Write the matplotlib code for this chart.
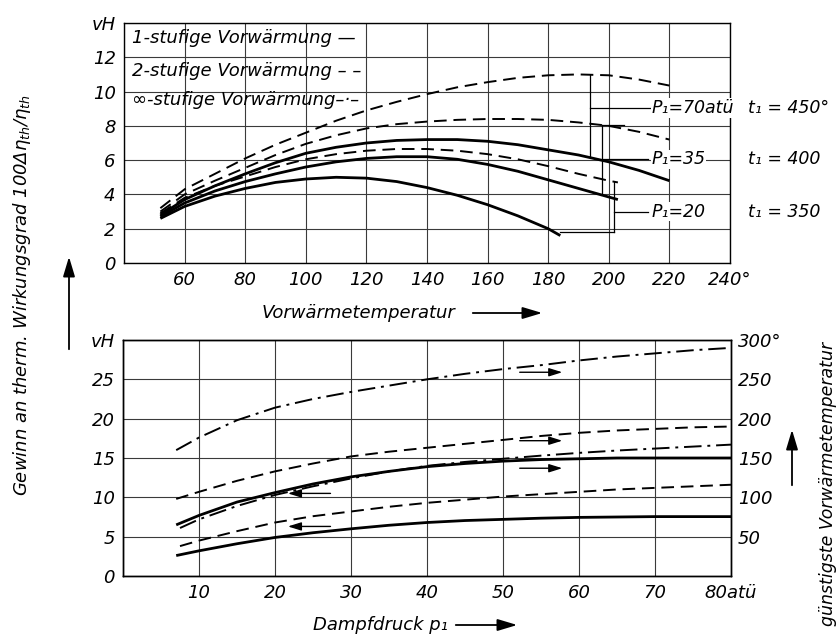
import matplotlib
matplotlib.use("Agg")
import matplotlib.pyplot as plt

plt.rcParams['font.family'] = ['DejaVu Sans']
plt.rcParams['font.style'] = 'italic'

# ---------------- top chart data (Vorwärmetemperatur vs. Gewinn) ----------------
top_xticks = [40, 60, 80, 100, 120, 140, 160, 180, 200, 220, 240]
top_xticklabels = ['', '60', '80', '100', '120', '140', '160', '180', '200', '220', '240°']
top_yticks = [0, 2, 4, 6, 8, 10, 12, 14]
top_yticklabels = ['0', '2', '4', '6', '8', '10', '12', 'vH']

s20_x = [52, 60, 70, 80, 90, 100, 110, 120, 130, 140, 150, 160, 170, 180, 184]
s20_y = [2.6, 3.3, 3.9, 4.35, 4.7, 4.9, 5.0, 4.95, 4.75, 4.4, 3.95, 3.4, 2.75, 2.0, 1.6]

s35_x = [52, 60, 70, 80, 90, 100, 110, 120, 130, 140, 150, 160, 170, 180, 190, 200, 203]
s35_y = [2.7, 3.5, 4.2, 4.75, 5.2, 5.6, 5.9, 6.1, 6.2, 6.2, 6.05, 5.75, 5.35, 4.85, 4.35, 3.85, 3.7]

s70_x = [52, 60, 70, 80, 90, 100, 110, 120, 130, 140, 150, 160, 170, 180, 190, 200, 210, 220]
s70_y = [2.8, 3.7, 4.5, 5.2, 5.85, 6.4, 6.75, 7.0, 7.15, 7.2, 7.2, 7.1, 6.9, 6.6, 6.3, 5.9, 5.4, 4.8]

d20_x = [52, 60, 70, 80, 90, 100, 110, 120, 130, 140, 150, 160, 170, 180, 190, 200, 203]
d20_y = [2.9, 3.8, 4.5, 5.05, 5.6, 6.05, 6.35, 6.55, 6.65, 6.65, 6.55, 6.35, 6.05, 5.65, 5.2, 4.8, 4.7]

d35_x = [52, 60, 70, 80, 90, 100, 110, 120, 130, 140, 150, 160, 170, 180, 190, 200, 210, 220]
d35_y = [3.0, 4.0, 4.8, 5.55, 6.3, 6.95, 7.45, 7.85, 8.1, 8.25, 8.35, 8.4, 8.4, 8.35, 8.2, 8.0, 7.65, 7.2]

d70_x = [52, 60, 70, 80, 90, 100, 110, 120, 130, 140, 150, 160, 170, 180, 190, 200, 210, 220]
d70_y = [3.2, 4.3, 5.2, 6.1, 6.9, 7.6, 8.3, 8.9, 9.4, 9.85, 10.25, 10.55, 10.8, 10.95, 11.0, 10.95, 10.7, 10.35]

legend_texts = ['1-stufige Vorwärmung —', '2-stufige Vorwärmung – –', '∞-stufige Vorwärmung–·–']
p_labels = ['P₁=70atü', 'P₁=35', 'P₁=20']
t_labels = ['t₁ = 450°', 't₁ = 400', 't₁ = 350']

# ---------------- bottom chart data (Dampfdruck) ----------------
bot_xticks = [0, 10, 20, 30, 40, 50, 60, 70, 80]
bot_xticklabels = ['', '10', '20', '30', '40', '50', '60', '70', '80atü']
bot_yticks = [0, 5, 10, 15, 20, 25, 30]
bot_yticklabels = ['0', '5', '10', '15', '20', '25', 'vH']
bot_rticks = [0, 50, 100, 150, 200, 250, 300]
bot_rticklabels = ['', '50', '100', '150', '200', '250', '300°']

p_x = [7, 10, 15, 20, 25, 30, 35, 40, 45, 50, 55, 60, 65, 70, 75, 80]
p_x2 = [7.5, 10, 15, 20, 25, 30, 35, 40, 45, 50, 55, 60, 65, 70, 75, 80]

temp_inf = [160, 176, 198, 214, 225, 234, 242, 250, 257, 263, 268, 274, 279, 283, 287, 290]
temp_2 = [98, 107, 121, 133, 143, 152, 158, 163, 168, 173, 178, 182, 185, 187, 189, 190]
temp_1 = [65, 77, 94, 106, 117, 126, 133, 139, 143, 146, 148, 149, 150, 150, 150, 150]

gain_inf = [6.1, 7.2, 8.9, 10.3, 11.4, 12.4, 13.3, 14.0, 14.5, 14.9, 15.3, 15.65, 15.95, 16.2, 16.45, 16.7]
gain_2 = [3.8, 4.5, 5.7, 6.8, 7.6, 8.2, 8.8, 9.3, 9.7, 10.1, 10.4, 10.7, 11.0, 11.2, 11.4, 11.6]
gain_1 = [2.6, 3.2, 4.1, 4.9, 5.5, 6.0, 6.45, 6.8, 7.05, 7.2, 7.35, 7.45, 7.5, 7.55, 7.55, 7.55]

# ---------------- figure ----------------
W, H = 840, 636
fig = plt.figure(figsize=(8.4, 6.36), dpi=100)
fig.patch.set_facecolor('white')


def fx(px):
    return px / W


def fy(py):
    return 1 - py / H


ax1 = fig.add_axes([fx(124), fy(263), fx(730) - fx(124), fy(23) - fy(263)])
ax2 = fig.add_axes([fx(123), fy(576), fx(731) - fx(123), fy(340) - fy(576)])

FS = 13
FS2 = 12.5
grid_kw = dict(color='#3a3a3a', lw=0.8)
SOLID = dict(color='black', lw=2.0, ls='-', solid_capstyle='butt')
DASH = dict(color='black', lw=1.4, ls=(0, (6.5, 3.5)))
DASHDOT = dict(color='black', lw=1.4, ls=(0, (9, 3, 1.5, 3)))

for ax in (ax1, ax2):
    for sp in ax.spines.values():
        sp.set_color('black')
        sp.set_linewidth(1.0)
    ax.tick_params(length=0, labelsize=FS, pad=6)
    ax.grid(True, **grid_kw)
    ax.set_axisbelow(True)

# top chart
ax1.set_xlim(40, 240)
ax1.set_ylim(0, 14)
ax1.set_xticks(top_xticks)
ax1.set_xticklabels(top_xticklabels, fontsize=FS, style='italic')
ax1.set_yticks(top_yticks)
ax1.set_yticklabels(top_yticklabels, fontsize=FS, style='italic')

ax1.plot(s20_x, s20_y, **SOLID)
ax1.plot(s35_x, s35_y, **SOLID)
ax1.plot(s70_x, s70_y, **SOLID)
ax1.plot(d20_x, d20_y, **DASH)
ax1.plot(d35_x, d35_y, **DASH)
ax1.plot(d70_x, d70_y, **DASH)

for txt, yv in zip(legend_texts, [13.15, 11.2, 9.5]):
    ax1.text(42.5, yv, txt, fontsize=FS, style='italic', va='center', ha='left')

# bracket connectors
con = dict(color='black', lw=0.9)
ax1.plot([193.8, 193.8], [10.95, 6.25], **con)
ax1.plot([193.8, 214.5], [9.05, 9.05], **con)
ax1.plot([197.7, 197.7], [8.05, 4.1], **con)
ax1.plot([197.7, 205.0], [8.05, 8.05], **con)
ax1.plot([197.7, 213.0], [6.05, 6.05], **con)
ax1.plot([201.7, 201.7], [4.75, 1.8], **con)
ax1.plot([184.0, 201.7], [1.8, 1.8], **con)
ax1.plot([201.7, 213.0], [3.0, 3.0], **con)

bb = dict(facecolor='white', edgecolor='none', pad=0.5)
for txt, yv in zip(p_labels, [9.05, 6.05, 3.0]):
    ax1.text(214.0, yv, txt, fontsize=FS2, style='italic', va='center', ha='left', bbox=bb)
for txt, yv in zip(t_labels, [9.05, 6.05, 3.0]):
    ax1.text(246.0, yv, txt, fontsize=FS2, style='italic', va='center', ha='left', clip_on=False)

# bottom chart
ax2.set_xlim(0, 80)
ax2.set_ylim(0, 30)
ax2.set_xticks(bot_xticks)
ax2.set_xticklabels(bot_xticklabels, fontsize=FS, style='italic')
ax2.set_yticks(bot_yticks)
ax2.set_yticklabels(bot_yticklabels, fontsize=FS, style='italic')

ax2r = ax2.twinx()
ax2r.set_ylim(0, 300)
ax2r.set_yticks(bot_rticks)
ax2r.set_yticklabels(bot_rticklabels, fontsize=FS, style='italic')
ax2r.tick_params(length=0, pad=5)
for sp in ax2r.spines.values():
    sp.set_color('black')
    sp.set_linewidth(1.0)

ax2r.plot(p_x, temp_inf, **DASHDOT)
ax2r.plot(p_x, temp_2, **DASH)
ax2r.plot(p_x, temp_1, **SOLID)
ax2.plot(p_x2, gain_inf, **DASHDOT)
ax2.plot(p_x2, gain_2, **DASH)
ax2.plot(p_x, gain_1, **SOLID)

arr = dict(arrowstyle='-|>,head_length=0.8,head_width=0.25', color='black', lw=1.0,
           shrinkA=0, shrinkB=0)
for yv in [25.9, 17.2, 13.7]:
    ax2.annotate('', xy=(57.8, yv), xytext=(52.2, yv), arrowprops=arr)
for yv in [10.5, 6.3]:
    ax2.annotate('', xy=(21.7, yv), xytext=(27.3, yv), arrowprops=arr)

# axis titles and arrows (figure coords)
fig.text(fx(262), fy(313), 'Vorwärmetemperatur', fontsize=FS, style='italic', ha='left', va='center')
fig.text(fx(313), fy(625), 'Dampfdruck p₁', fontsize=FS, style='italic', ha='left', va='center')
fig.text(fx(22), fy(295), 'Gewinn an therm. Wirkungsgrad 100Δη$_{th}$/η$_{th}$', fontsize=FS,
         style='italic', rotation=90, ha='center', va='center')
fig.text(fx(828), fy(484), 'günstigste Vorwärmetemperatur', fontsize=FS2, style='italic',
         rotation=90, ha='center', va='center')

farr = dict(arrowstyle='-|>,head_length=1.0,head_width=0.3', color='black', lw=1.3)
for p0, p1 in [((470, 313), (545, 313)), ((453, 625), (520, 625)),
               ((69, 352), (69, 254)), ((792, 488), (792, 427))]:
    fig.add_artist(matplotlib.patches.FancyArrowPatch(
        (fx(p0[0]), fy(p0[1])), (fx(p1[0]), fy(p1[1])),
        transform=fig.transFigure, mutation_scale=12, **farr))

fig.savefig('out.png', dpi=100, facecolor='white')
